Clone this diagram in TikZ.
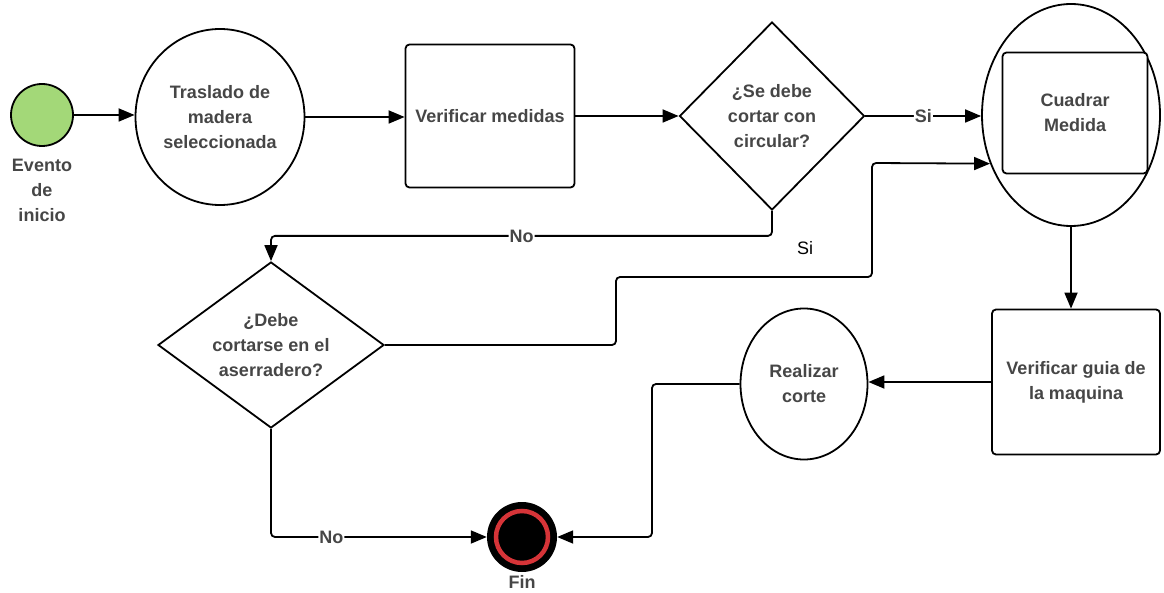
\documentclass[tikz,border=0pt]{standalone}
\usepackage{fontspec}
\setmainfont{Liberation Sans}
\usepackage{tikz}
\usetikzlibrary{shapes.geometric, arrows.meta}
\definecolor{verdeinicio}{RGB}{163,216,120}
\definecolor{rojofin}{RGB}{214,52,56}
\definecolor{gristexto}{RGB}{70,70,70}
\tikzset{mytext/.style={text=gristexto, align=center, font=\fontsize{18}{25}\selectfont\bfseries}}
\tikzset{mybox/.style={mytext, draw, line width=1.8pt, rounded corners=4pt, fill=white, inner sep=0pt}}
\tikzset{myellipse/.style={mytext, draw, ellipse, line width=1.8pt, fill=white, inner sep=0pt}}
\tikzset{mydiamond/.style={mytext, draw, diamond, line width=1.8pt, fill=white, inner sep=0pt}}
\tikzset{myarrow/.style={-{Triangle[length=16pt, width=13pt]}, line width=1.8pt, rounded corners=4pt}}
\tikzset{mylabel/.style={mytext, fill=white, inner sep=1pt}}

\begin{document}
\begin{tikzpicture}[x=1pt, y=-1pt]
    \useasboundingbox (0,0) rectangle (1164,593);

    \node[myellipse, fill=verdeinicio, minimum size=62pt] (inicio) at (42,115) {};
    \node[mytext] (inicioTxt) at (42,190) {Evento\\de\\inicio};
    \node[myellipse, minimum width=169pt, minimum height=176pt] (traslado) at (220,117) {Traslado de\\madera\\seleccionada};
    \node[mybox, minimum width=169pt, minimum height=143pt] (verificar) at (490,116) {Verificar medidas};
    \node[mydiamond, minimum width=185pt, minimum height=188pt] (circular) at (772,116) {¿Se debe\\cortar con\\circular?};

    \node[myellipse, minimum width=178pt, minimum height=222pt] (cuadrarOut) at (1071,115) {};
    \node[mybox, minimum width=145pt, minimum height=121pt] (cuadrar) at (1075,113) {Cuadrar\\Medida};

    \node[mybox, minimum width=168pt, minimum height=145pt] (guia) at (1076,382) {Verificar guia de\\la maquina};
    \node[myellipse, minimum width=127pt, minimum height=151pt] (corte) at (804,384) {Realizar\\corte};
    \node[mydiamond, aspect=1.4, minimum width=226pt, minimum height=166pt] (aserradero) at (271,345) {¿Debe\\cortarse en el\\aserradero?};

    \node[circle, fill=black, minimum size=70pt, inner sep=0pt] (fin) at (522,537) {};
    \draw[rojofin, line width=4.5pt] (fin.center) circle (26pt);
    \node[mytext] (finTxt) at (522,582) {Fin};

    \draw[myarrow] (inicio.east) -- (inicio.east -| traslado.west);
    \draw[myarrow] (traslado.east) -- (traslado.east -| verificar.west);
    \draw[myarrow] (verificar.east) -- (circular.west);
    \draw[myarrow] (circular.east) -- (circular.east -| cuadrarOut.west) node[mylabel, midway] {Si};
    \draw[myarrow] (circular.south) -- ++(0,25) -| (aserradero.north) node[mylabel, pos=0.25] {No};
    \draw[myarrow] (aserradero.east) -| (616,277) -| (872,163) -- (cuadrarOut.211.5);
    \node[font=\fontsize{18}{25}\selectfont] (siTxt) at (805,248) {Si};
    \draw[myarrow] (cuadrarOut.south) -- (cuadrarOut.south |- guia.north);
    \draw[myarrow] (guia.west) -- (guia.west -| corte.east);
    \draw[myarrow] (corte.west) -| (652,537) -- (fin.east);
    \draw[myarrow] (aserradero.south) |- (fin.west) node[mylabel, pos=0.64] {No};

\end{tikzpicture}
\end{document}
